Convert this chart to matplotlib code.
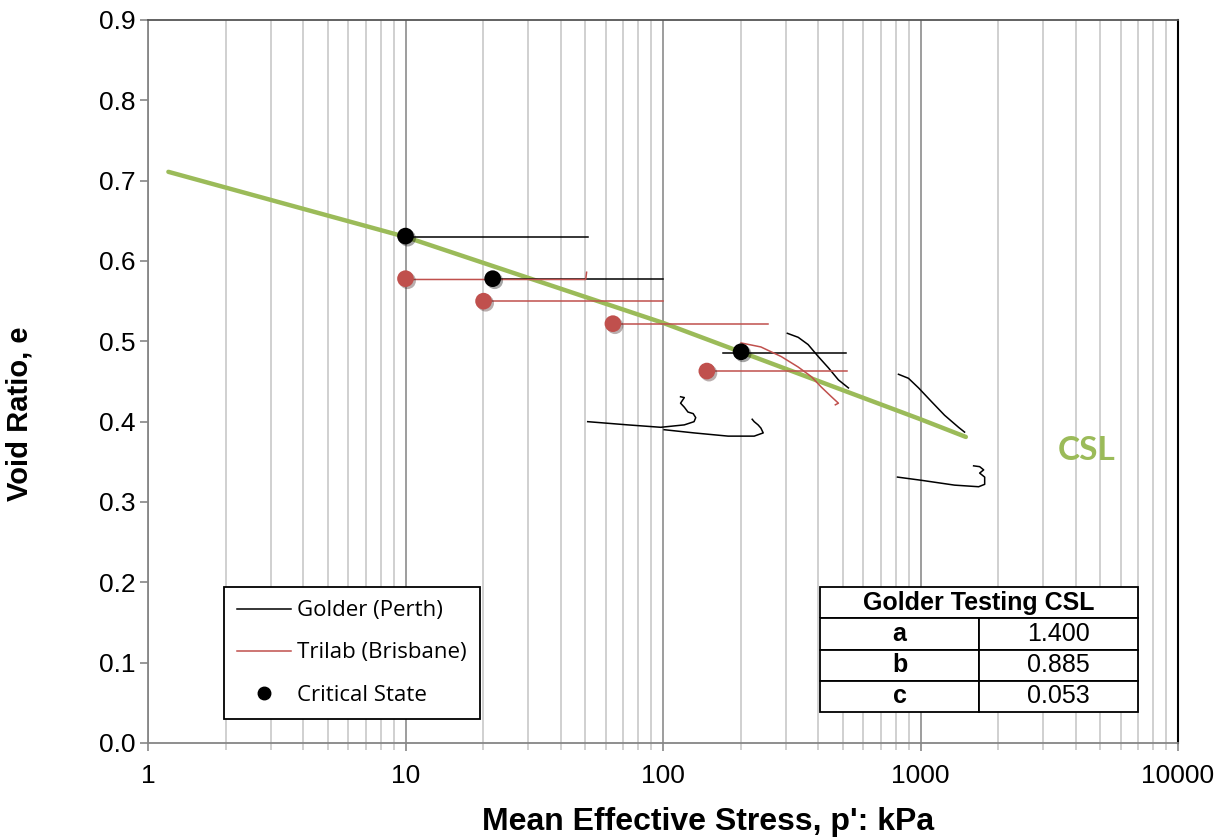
import matplotlib.pyplot as plt
import matplotlib.patheffects as pe
from matplotlib.patches import Rectangle
from matplotlib.ticker import FixedLocator, LogLocator, NullFormatter

# Critical state line
csl_p = [1.2, 10, 100, 1000, 1500]
csl_e = [0.711, 0.630, 0.523, 0.403, 0.381]

# Golder (Perth) stress paths
golder_paths = [
    ([10, 51], [0.630, 0.630]),
    ([21.8, 100], [0.577, 0.577]),
    ([171, 515], [0.486, 0.486]),
    ([304, 335, 366, 401, 439, 480, 525],
     [0.510, 0.505, 0.496, 0.481, 0.467, 0.452, 0.442]),
    ([821, 898, 983, 1103, 1240, 1405, 1483],
     [0.459, 0.454, 0.442, 0.425, 0.408, 0.393, 0.387]),
    ([51, 73, 98, 121, 132, 134, 131, 125, 121, 117, 121, 117],
     [0.400, 0.396, 0.393, 0.396, 0.400, 0.405, 0.410, 0.412, 0.418, 0.423, 0.430, 0.431]),
    ([101, 132, 179, 226, 245, 240, 234, 226, 222],
     [0.390, 0.386, 0.382, 0.382, 0.386, 0.392, 0.396, 0.400, 0.403]),
    ([814, 1009, 1356, 1682, 1775, 1775, 1697, 1759, 1697, 1608],
     [0.331, 0.327, 0.321, 0.319, 0.322, 0.331, 0.336, 0.340, 0.344, 0.345]),
]

# Trilab (Brisbane) stress paths
trilab_paths = [
    ([50.5, 50.1, 10], [0.586, 0.577, 0.577]),
    ([20.1, 100], [0.550, 0.550]),
    ([63.9, 256], [0.522, 0.522]),
    ([148, 520], [0.463, 0.463]),
    ([201, 240, 288, 335, 377, 412, 451, 480, 467],
     [0.498, 0.493, 0.481, 0.468, 0.456, 0.443, 0.431, 0.423, 0.421]),
]

# Critical state points
golder_cs_p = [10, 21.8, 201]
golder_cs_e = [0.631, 0.578, 0.487]
trilab_cs_p = [10, 20.1, 63.9, 148]
trilab_cs_e = [0.578, 0.550, 0.522, 0.463]

# CSL parameters table
param_names = ["a", "b", "c"]
param_values = ["1.400", "0.885", "0.053"]

x_ticks = [1, 10, 100, 1000, 10000]
y_ticks = [0.0, 0.1, 0.2, 0.3, 0.4, 0.5, 0.6, 0.7, 0.8, 0.9]

GREEN = "#9BBB59"
RED = "#C0504D"

plt.rcParams["font.family"] = ["Liberation Sans", "DejaVu Sans"]

fig = plt.figure(figsize=(12.31, 8.4), dpi=100)
ax = fig.add_axes([148 / 1231, 1 - 743 / 840, 1030 / 1231, 723 / 840])

ax.set_xscale("log")
ax.set_xlim(1, 10000)
ax.set_ylim(0, 0.9)

# vertical grid only
ax.xaxis.set_major_locator(FixedLocator(x_ticks))
ax.xaxis.set_minor_locator(LogLocator(base=10, subs=range(2, 10)))
ax.xaxis.set_minor_formatter(NullFormatter())
ax.set_xticklabels([str(v) for v in x_ticks])
ax.set_yticks(y_ticks)
ax.set_yticklabels([f"{v:.1f}" for v in y_ticks])
ax.grid(True, which="major", axis="x", color="#8c8c8c", linewidth=1.2)
ax.grid(True, which="minor", axis="x", color="#c8c8c8", linewidth=1.2)
ax.set_axisbelow(True)

for s in ["left", "bottom"]:
    ax.spines[s].set_color("#868686")
    ax.spines[s].set_linewidth(1.3)
ax.spines["top"].set_color("#555555")
ax.spines["top"].set_linewidth(1.3)
ax.spines["right"].set_color("black")
ax.spines["right"].set_linewidth(1.5)

ax.tick_params(axis="both", which="major", direction="out", length=6,
               color="#868686", width=1.2, labelsize=19)
ax.tick_params(axis="y", which="major", pad=3)
ax.tick_params(axis="x", which="minor", direction="out", length=5,
               color="#c8c8c8", width=1.2)
ax.tick_params(axis="x", which="major", pad=9)

ax.set_xlabel("Mean Effective Stress, p': kPa", fontsize=23, fontweight="bold")
ax.set_ylabel("Void Ratio, e", fontsize=21, fontweight="bold")
ax.xaxis.set_label_coords((708 - 148) / 1030, -(807 - 743) / 723)
ax.yaxis.set_label_coords(-(148 - 34) / 1030, (743 - 414) / 723)

# CSL
ax.plot(csl_p, csl_e, color=GREEN, linewidth=3.2, solid_capstyle="round",
        zorder=3)

for p, e in golder_paths:
    ax.plot(p, e, color="black", linewidth=1.1, zorder=4)
for p, e in trilab_paths:
    ax.plot(p, e, color=RED, linewidth=1.1, zorder=4)

shadow = [pe.SimplePatchShadow(offset=(1.5, -1.5), alpha=0.35), pe.Normal()]
ax.plot(trilab_cs_p, trilab_cs_e, "o", color=RED, markersize=12,
        markeredgewidth=0, zorder=5, path_effects=shadow)
ax.plot(golder_cs_p, golder_cs_e, "o", color="black", markersize=12,
        markeredgewidth=0, zorder=6, path_effects=shadow)

ax.text((1087 - 148) / 1030, (743 - 451) / 723, "CSL",
        transform=ax.transAxes, color=GREEN, fontsize=24, fontweight="bold",
        family=["Lato", "DejaVu Sans"], ha="center", va="center")

# legend
h_g, = ax.plot([], [], color="black", linewidth=1.1, label="Golder (Perth)")
h_t, = ax.plot([], [], color=RED, linewidth=1.1, label="Trilab (Brisbane)")
h_c, = ax.plot([], [], "o", color="black", markersize=9, label="Critical State")
leg = ax.legend(handles=[h_g, h_t, h_c], loc="upper left",
                bbox_to_anchor=((224 - 148) / 1030, (743 - 587) / 723),
                frameon=True, fancybox=False, framealpha=1, edgecolor="black",
                prop={"family": ["Open Sans", "DejaVu Sans"], "size": 16},
                handlelength=2.4, labelspacing=0.95, borderpad=0.6,
                handletextpad=0.3, borderaxespad=0)
leg.get_frame().set_linewidth(1.3)
leg.set_zorder(10)

# parameter table
x0, x1 = (820 - 148) / 1030, (1138 - 148) / 1030
y_top, y_bot = (743 - 587) / 723, (743 - 712) / 723
row_h = (y_top - y_bot) / 4
ax.add_patch(Rectangle((x0, y_top - row_h), x1 - x0, row_h,
                       transform=ax.transAxes, facecolor="white",
                       edgecolor="none", zorder=9.5))
tbl = ax.table(cellText=[["Golder Testing CSL", ""]] +
               [[n, v] for n, v in zip(param_names, param_values)],
               cellLoc="center", colWidths=[0.5, 0.5],
               bbox=[x0, y_bot, x1 - x0, y_top - y_bot], zorder=10)
tbl.auto_set_font_size(False)
for (r, c), cell in tbl.get_celld().items():
    cell.set_linewidth(1.3)
    cell.set_edgecolor("black")
    cell.get_text().set_fontsize(18)
    if r == 0:
        cell.get_text().set_text("")
        cell.visible_edges = "LTB" if c == 0 else "RTB"
    elif c == 0:
        cell.get_text().set_fontweight("bold")
ax.text((x0 + x1) / 2, y_top - 0.5 * row_h, "Golder Testing CSL",
        transform=ax.transAxes, ha="center", va="center", fontsize=18,
        fontweight="bold", zorder=11)

fig.savefig("out.png", dpi=100)
